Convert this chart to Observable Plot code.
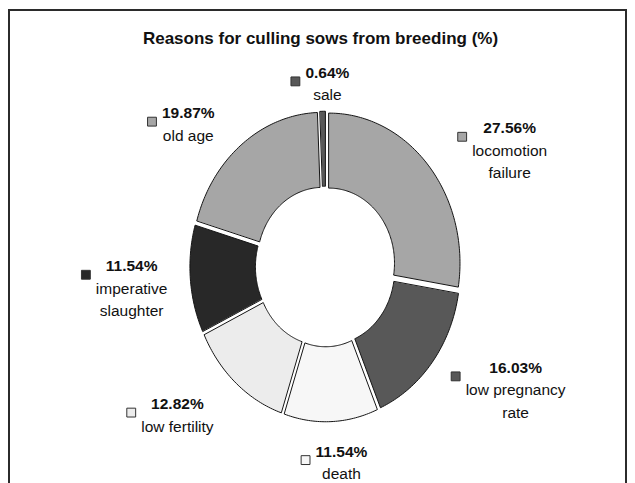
<!DOCTYPE html>
<html><head><meta charset="utf-8">
<script src="https://cdn.jsdelivr.net/npm/d3@7"></script>
<script src="https://cdn.jsdelivr.net/npm/@observablehq/plot@0.6"></script>
<style>
body{margin:0;background:#fff;}
#wrap{position:relative;width:635px;height:483px;overflow:hidden;font-family:"Liberation Sans",Arial,sans-serif;}
#frame{position:absolute;left:8px;top:9px;width:619px;height:520px;border:2px solid #2b2b2b;border-bottom:none;box-sizing:border-box;}
#title{position:absolute;top:29px;left:0;width:641px;text-align:center;font-weight:bold;font-size:17px;color:#111;}
#chart{position:absolute;left:0;top:0;}
</style></head><body>
<div id="wrap"><div id="frame"></div><div id="title"></div><div id="chart"></div></div>
<script>
// ---- data ----
const title = "Reasons for culling sows from breeding (%)";
const categories = ["locomotion\nfailure","low pregnancy\nrate","death","low fertility","imperative\nslaughter","old age","sale"];
const values = [27.56,16.03,11.54,12.82,11.54,19.87,0.64];
const colors = ["#a6a6a6","#585858","#f7f7f7","#ececec","#282828","#a6a6a6","#585858"];

// ---- layout ----
const cx = 325, cy = 266, rx = 131, ry = 150;
const inner = 0.5, explode = 0.035;
const lineGap = 22.5, fontSize = 15.5;

document.getElementById("title").textContent = title;

const total = d3.sum(values);
let acc = 0;
const slices = categories.map((c, i) => {
  const a0 = acc / total * 2 * Math.PI; acc += values[i];
  const a1 = acc / total * 2 * Math.PI;
  return {c, i, a0, a1, am: (a0 + a1) / 2};
});

const pts = [];
for (const s of slices) {
  const ox = explode * Math.sin(s.am), oy = explode * Math.cos(s.am);
  const n = Math.max(2, Math.ceil((s.a1 - s.a0) / (Math.PI / 180)));
  for (let k = 0; k <= n; k++) {
    const a = s.a0 + (s.a1 - s.a0) * k / n;
    pts.push({c: s.c, x: ox + Math.sin(a), y: oy + Math.cos(a)});
  }
  for (let k = n; k >= 0; k--) {
    const a = s.a0 + (s.a1 - s.a0) * k / n;
    pts.push({c: s.c, x: ox + inner * Math.sin(a), y: oy + inner * Math.cos(a)});
  }
}

const ctx = document.createElement("canvas").getContext("2d");
function textW(t, bold) { ctx.font = (bold ? "bold " : "") + fontSize + "px 'Liberation Sans', Arial"; return ctx.measureText(t).width; }

const textLines = [], markers = [];
for (const s of slices) {
  const lx = Math.max(-1.48, Math.min(1.6, 0.05 + 1.78 * Math.sin(s.am)));
  const ly = -0.047 + 1.263 * Math.cos(s.am);
  const lines = [values[s.i].toFixed(2) + "%", ...s.c.split("\n")];
  const n = lines.length;
  let maxW = 0;
  lines.forEach((t, j) => {
    const off = (j - (n - 1) / 2) * lineGap;
    textLines.push({t, bold: j === 0, x: lx, y: ly - off / ry});
    maxW = Math.max(maxW, textW(t, j === 0));
  });
  const off0 = (-(n - 1) / 2) * lineGap + 8.5;
  markers.push({c: s.c, x: lx - (maxW / 2 + 10) / rx, y: ly - off0 / ry});
}

const chart = Plot.plot({
  width: 635, height: 483, margin: 0,
  x: {domain: [-1, 1], range: [cx - rx, cx + rx], axis: null},
  y: {domain: [-1, 1], range: [cy + ry, cy - ry], axis: null},
  color: {domain: categories, range: colors},
  style: {background: "transparent", fontFamily: "'Liberation Sans', Arial, sans-serif", overflow: "visible"},
  marks: [
    Plot.line(pts, {x: "x", y: "y", z: "c", fill: "c", stroke: "#151515", strokeWidth: 1, curve: "linear-closed"}),
    Plot.dot(markers, {x: "x", y: "y", fill: "c", stroke: "#333", strokeWidth: 1, symbol: "square", r: 5}),
    Plot.text(textLines.filter(d => d.bold), {x: "x", y: "y", text: "t", fontWeight: "bold", fontSize: fontSize, fill: "#111"}),
    Plot.text(textLines.filter(d => !d.bold), {x: "x", y: "y", text: "t", fontSize: fontSize, fill: "#111"})
  ]
});
document.getElementById("chart").appendChild(chart);
</script>
</body></html>
